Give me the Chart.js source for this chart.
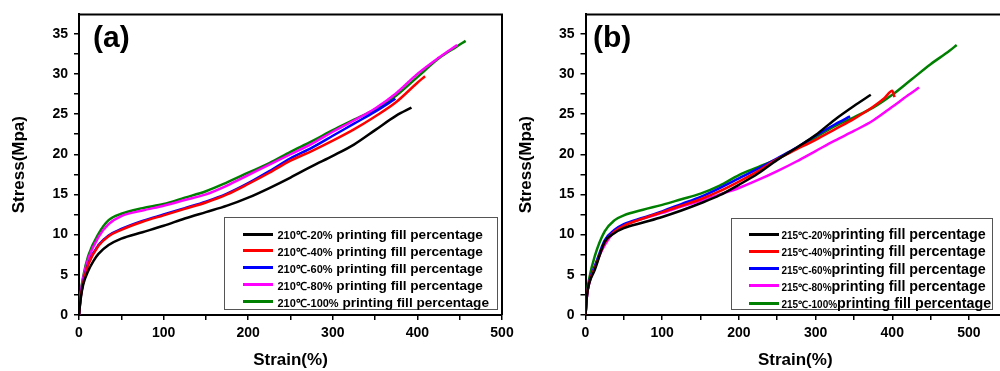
<!DOCTYPE HTML>
<html>
<head>
  <meta charset='utf-8'>
  <title>Stress-strain curves</title>
  <script src='https://cdn.jsdelivr.net/npm/chart.js'></script>
  <style>
    body {
      margin: 0;
      width: 1000px;
      height: 371px;
      overflow: hidden;
      position: relative;
      background: #fff;
      font-family: Arial, 'Liberation Sans', sans-serif;
    }
    .wrap { position: absolute; top: 0; height: 371px; }
    .panel-label {
      position: absolute;
      font-weight: bold;
      font-size: 30px;
      line-height: 30px;
      color: #000;
    }
    .legend {
      position: absolute;
      border: 1px solid #555;
      background: #fff;
      box-sizing: border-box;
    }
    .legend .row { position: absolute; left: 0; height: 0; white-space: nowrap; }
    .legend .swatch { position: absolute; width: 30px; height: 3px; top: -1.5px; }
    .legend .txt { position: absolute; top: -9px; line-height: 18px; font-weight: bold; color: #000; }
  </style>
</head>
<body>
  <div class='wrap' style='left:0;width:520px'><canvas id='chartA'></canvas></div>
  <div class='wrap' style='left:500px;width:505px'><canvas id='chartB'></canvas></div>
  <div class='panel-label' style='left:93px;top:22px'>(a)</div>
  <div class='panel-label' style='left:593px;top:22px'>(b)</div>
  <div id='legendA' class='legend' style='left:224px;top:217px;width:274px;height:93px'></div>
  <div id='legendB' class='legend' style='left:731px;top:218px;width:262px;height:92px'></div>
  <script>
    // colours shared by both panels (20%, 40%, 60%, 80%, 100% fill)
    var colors = ['#000000', '#ff0000', '#0000ff', '#ff00ff', '#008000'];

    // panel (a) - 210 C
    var namesA = ['210℃-20%', '210℃-40%', '210℃-60%', '210℃-80%', '210℃-100%'];
    var strainA20 = [0, 2, 5, 11, 17, 23, 35, 50, 75, 100, 125, 150, 175, 200, 225, 250, 275, 300, 325, 350, 375, 393];
    var stressA20 = [0, 2.0, 3.8, 5.5, 6.7, 7.6, 8.7, 9.5, 10.3, 11.1, 12.0, 12.8, 13.6, 14.6, 15.8, 17.1, 18.5, 19.8, 21.2, 23.0, 24.8, 25.8];
    var strainA40 = [0, 2, 5, 11, 23, 35, 50, 75, 100, 125, 150, 175, 200, 225, 250, 275, 300, 325, 350, 375, 400, 409];
    var stressA40 = [0, 2.2, 4.0, 6.3, 8.6, 9.8, 10.6, 11.6, 12.4, 13.2, 14.0, 15.0, 16.3, 17.7, 19.2, 20.4, 21.7, 23.1, 24.7, 26.5, 28.9, 29.7];
    var strainA60 = [0, 2, 5, 11, 23, 35, 50, 75, 100, 125, 150, 175, 200, 225, 250, 275, 300, 325, 350, 374];
    var stressA60 = [0, 2.3, 4.1, 6.4, 8.7, 9.9, 10.7, 11.7, 12.5, 13.3, 14.1, 15.1, 16.4, 17.9, 19.5, 20.8, 22.3, 23.8, 25.3, 26.9];
    var strainA80 = [0, 2, 5, 11, 23, 35, 50, 75, 100, 125, 150, 175, 200, 225, 250, 275, 300, 325, 350, 375, 400, 425, 447];
    var stressA80 = [0, 2.6, 4.6, 7.0, 9.7, 11.3, 12.3, 13.0, 13.6, 14.3, 15.0, 16.1, 17.4, 18.7, 20.0, 21.3, 22.8, 24.2, 25.7, 27.6, 30.0, 32.0, 33.6];
    var strainA100 = [0, 2, 5, 11, 23, 35, 50, 75, 100, 125, 150, 175, 200, 225, 250, 275, 300, 325, 350, 375, 400, 425, 445, 457];
    var stressA100 = [0, 2.7, 4.8, 7.4, 10.1, 11.8, 12.6, 13.3, 13.8, 14.6, 15.4, 16.5, 17.7, 18.9, 20.3, 21.6, 23.0, 24.3, 25.6, 27.3, 29.6, 31.9, 33.3, 34.1];

    // panel (b) - 215 C
    var namesB = ['215℃-20%', '215℃-40%', '215℃-60%', '215℃-80%', '215℃-100%'];
    var strainB20 = [0, 2, 5, 12, 25, 38, 50, 75, 100, 125, 150, 175, 200, 225, 250, 275, 300, 325, 350, 372];
    var stressB20 = [0, 2.5, 4.0, 5.6, 9.1, 10.2, 10.8, 11.5, 12.2, 13.0, 13.9, 14.9, 16.2, 17.6, 19.3, 20.8, 22.4, 24.3, 26.0, 27.4];
    var strainB40 = [0, 2, 5, 12, 25, 38, 50, 75, 100, 125, 150, 175, 200, 225, 250, 275, 300, 325, 350, 375, 390, 400, 403];
    var stressB40 = [0, 2.5, 4.1, 5.8, 9.0, 10.4, 11.1, 12.0, 12.8, 13.6, 14.4, 15.4, 16.6, 17.9, 19.4, 20.6, 21.8, 23.1, 24.4, 25.9, 27.0, 27.9, 27.1];
    var strainB60 = [0, 2, 5, 12, 25, 38, 50, 75, 100, 125, 150, 175, 200, 225, 250, 275, 300, 325, 345];
    var stressB60 = [0, 2.5, 4.2, 6.0, 9.3, 10.6, 11.3, 12.1, 12.9, 13.8, 14.7, 15.8, 17.0, 18.2, 19.5, 20.8, 22.3, 23.7, 24.7];
    var strainB80 = [0, 2, 5, 12, 25, 38, 50, 75, 100, 125, 150, 175, 200, 225, 250, 275, 300, 325, 350, 375, 400, 420, 435];
    var stressB80 = [0, 2.4, 4.0, 6.0, 8.7, 10.4, 11.2, 12.0, 12.7, 13.5, 14.2, 15.0, 15.8, 16.8, 17.9, 19.1, 20.4, 21.7, 22.9, 24.2, 25.9, 27.3, 28.3];
    var strainB100 = [0, 2, 5, 12, 25, 38, 50, 75, 100, 125, 150, 175, 200, 225, 250, 275, 300, 325, 350, 375, 400, 425, 450, 475, 484];
    var stressB100 = [0, 2.8, 4.6, 7.3, 10.4, 11.8, 12.4, 13.1, 13.7, 14.4, 15.1, 16.1, 17.4, 18.4, 19.4, 20.7, 22.1, 23.5, 24.6, 25.8, 27.4, 29.3, 31.2, 32.9, 33.6];

    var yTicks = [0, 5, 10, 15, 20, 25, 30, 35];
    var xTicks = [0, 100, 200, 300, 400, 500];

    function pairs(xs, ys) {
      var out = [];
      for (var i = 0; i < xs.length; i++) out.push({ x: xs[i], y: ys[i] });
      return out;
    }

    function makeDatasets(names, xsList, ysList) {
      return names.map(function(n, i) {
        return {
          label: n,
          data: pairs(xsList[i], ysList[i]),
          borderColor: colors[i],
          backgroundColor: colors[i],
          borderWidth: 2.5,
          pointRadius: 0,
          fill: false,
          cubicInterpolationMode: 'monotone'
        };
      });
    }

    // draws the top and right sides of the plot frame
    var framePlugin = {
      id: 'frame',
      afterDraw: function(chart) {
        var a = chart.chartArea, c = chart.ctx;
        c.save();
        c.strokeStyle = '#000';
        c.lineWidth = 2;
        c.beginPath();
        c.moveTo(a.left, a.top);
        c.lineTo(a.right, a.top);
        c.lineTo(a.right, a.bottom);
        c.stroke();
        c.restore();
      }
    };

    function makeOptions(cfg) {
      var tickFont = { family: 'Arial', size: 14, weight: 'bold' };
      var titleFont = { family: 'Arial', size: 17, weight: 'bold' };
      return {
        responsive: true,
        maintainAspectRatio: false,
        animation: false,
        layout: { padding: { top: cfg.top, right: cfg.right, left: 0, bottom: 0 } },
        plugins: { legend: { display: false }, tooltip: { enabled: false } },
        scales: {
          x: {
            type: 'linear',
            min: 0,
            max: cfg.xMax,
            afterFit: function(s) { s.height = 56; },
            border: { display: true, color: '#000', width: 2 },
            grid: { drawOnChartArea: false, drawTicks: true, tickLength: 5, color: '#000', lineWidth: 1.5 },
            ticks: {
              stepSize: 50,
              includeBounds: false,
              autoSkip: false,
              maxRotation: 0,
              padding: 5,
              color: '#000',
              font: tickFont,
              callback: function(v) { return xTicks.indexOf(v) >= 0 ? String(v) : ''; }
            },
            title: { display: true, text: 'Strain(%)', color: '#000', font: titleFont, padding: { top: 0, bottom: 0 } }
          },
          y: {
            min: 0,
            max: 37.4,
            afterFit: function(s) { s.width = cfg.yWidth; },
            border: { display: true, color: '#000', width: 2 },
            grid: { drawOnChartArea: false, drawTicks: true, tickLength: 5, color: '#000', lineWidth: 1.5 },
            ticks: {
              stepSize: 2.5,
              includeBounds: false,
              autoSkip: false,
              padding: 6,
              color: '#000',
              font: tickFont,
              callback: function(v) { return yTicks.indexOf(v) >= 0 ? String(v) : ''; }
            },
            title: { display: true, text: 'Stress(Mpa)', color: '#000', font: titleFont, padding: { top: cfg.titlePad, bottom: 0 } }
          }
        }
      };
    }

    new Chart(document.getElementById('chartA'), {
      type: 'line',
      data: {
        datasets: makeDatasets(namesA,
          [strainA20, strainA40, strainA60, strainA80, strainA100],
          [stressA20, stressA40, stressA60, stressA80, stressA100])
      },
      options: makeOptions({ top: 13, right: 18, yWidth: 79, xMax: 500, titlePad: 9 }),
      plugins: [framePlugin]
    });

    new Chart(document.getElementById('chartB'), {
      type: 'line',
      data: {
        datasets: makeDatasets(namesB,
          [strainB20, strainB40, strainB60, strainB80, strainB100],
          [stressB20, stressB40, stressB60, stressB80, stressB100])
      },
      options: makeOptions({ top: 14, right: 0, yWidth: 85.5, xMax: 547, titlePad: 16 }),
      plugins: [framePlugin]
    });

    // legends inside the plots
    function buildLegend(id, names, suffix, cfg) {
      var box = document.getElementById(id);
      names.forEach(function(n, i) {
        var row = document.createElement('div');
        row.className = 'row';
        row.style.top = (cfg.first + i * cfg.step) + 'px';
        var sw = document.createElement('span');
        sw.className = 'swatch';
        sw.style.left = cfg.lineLeft + 'px';
        sw.style.background = colors[i];
        var t = document.createElement('span');
        t.className = 'txt';
        t.style.left = cfg.textLeft + 'px';
        t.innerHTML = '<span style="font-size:' + cfg.small + 'px">' + n + '</span>' +
          '<span style="font-size:' + cfg.big + 'px">' + suffix + '</span>';
        row.appendChild(sw);
        row.appendChild(t);
        box.appendChild(row);
      });
    }
    buildLegend('legendA', namesA, ' printing fill percentage', { first: 16, step: 16.9, lineLeft: 18, textLeft: 52.5, small: 11, big: 13.6 });
    buildLegend('legendB', namesB, 'printing fill percentage', { first: 15, step: 17.3, lineLeft: 17, textLeft: 49.5, small: 10, big: 14.3 });
  </script>
</body>
</html>
